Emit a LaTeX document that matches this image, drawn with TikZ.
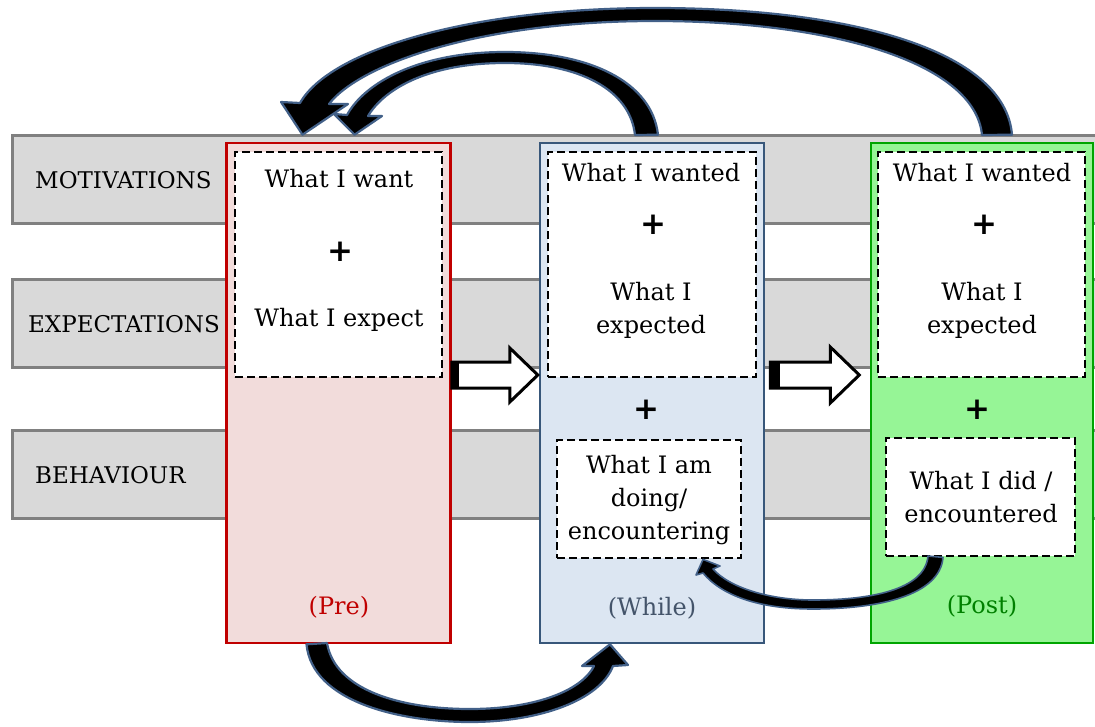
\documentclass[tikz,border=0pt]{standalone}
\usepackage{fontspec}
\setmainfont{DejaVu Serif}
\setsansfont{DejaVu Sans}
\usetikzlibrary{positioning,calc}

\definecolor{bandgray}{RGB}{217,217,217}
\definecolor{bandline}{RGB}{128,128,128}
\definecolor{prefill}{RGB}{242,220,219}
\definecolor{preline}{RGB}{192,0,0}
\definecolor{whilefill}{RGB}{220,230,242}
\definecolor{whileline}{RGB}{56,87,122}
\definecolor{whiletext}{RGB}{68,84,106}
\definecolor{postfill}{RGB}{150,245,150}
\definecolor{postline}{RGB}{0,165,0}
\definecolor{posttext}{RGB}{0,128,0}
\definecolor{arrowblue}{RGB}{66,96,136}

\begin{document}
\begin{tikzpicture}[x=1pt,y=-1pt,font=\fontsize{23}{32}\selectfont]
	\tikzstyle{band}=[draw=bandline,fill=bandgray,line width=3pt,minimum width=1088pt,minimum height=88pt,inner sep=0pt]
	\tikzstyle{phase}=[line width=2.6pt,minimum width=224pt,minimum height=500pt,inner sep=0pt]
	\tikzstyle{dashbox}=[draw=black,fill=white,dash pattern=on 8pt off 4pt,line width=2.8pt,inner sep=0pt]
	\tikzstyle{txt}=[align=center,inner sep=0pt,font=\fontsize{24}{33}\selectfont]
	\tikzstyle{plussign}=[inner sep=0pt,font=\sffamily\bfseries\fontsize{31}{31}\selectfont]
	\tikzstyle{hollow}=[draw=black,fill=white,line width=3pt,line join=miter]
	\tikzstyle{curly}=[fill=black,draw=arrowblue,line width=2.2pt,line join=round]
	
	\useasboundingbox (0,0) rectangle (1095,726);
	
	% rows
	\node[band] (mot) at (556,179) {};
	\node[band] (exp) at (556,323) {};
	\node[band] (beh) at (556,474.5) {};
	\node[anchor=base west,inner sep=0pt] (motlbl) at (35,188) {MOTIVATIONS};
	\node[anchor=base west,inner sep=0pt] (explbl) at (28,332) {EXPECTATIONS};
	\node[anchor=base west,inner sep=0pt] (behlbl) at (35,483) {BEHAVIOUR};
	
	% phases
	\node[phase,draw=preline,fill=prefill] (pre) at (338.5,393) {};
	\node[phase,draw=whileline,fill=whilefill] (while) at (652,393) {};
	\node[phase,draw=postline,fill=postfill,minimum width=222pt] (post) at (982,393) {};
	
	\node[dashbox,minimum width=207pt,minimum height=225pt] (preup) at (338.5,264.5) {};
	\node[dashbox,minimum width=208pt,minimum height=225pt] (whileup) at (652,264.5) {};
	\node[dashbox,minimum width=184pt,minimum height=118pt] (whilelow) at (649,499) {};
	\node[dashbox,minimum width=207pt,minimum height=225pt] (postup) at (981.5,264.5) {};
	\node[dashbox,minimum width=189pt,minimum height=118pt] (postlow) at (980.5,497) {};
	
	\node[txt,anchor=base] (want) at (339,187) {What I want};
	\node[plussign] (plusA) at (340,252) {+};
	\node[txt,anchor=base] (expect) at (339,326) {What I expect};
	
	\node[txt,anchor=base] (wanted) at (651,181) {What I wanted};
	\node[plussign] (plusB) at (653,225) {+};
	\node[txt] (expected) at (651,310) {What I\\expected};
	\node[plussign] (plusC) at (646,410) {+};
	\node[txt] (doing) at (649,500) {What I am\\doing/\\encountering};
	
	\node[txt,anchor=base] (wanted2) at (982,181) {What I wanted};
	\node[plussign] (plusD) at (984,225) {+};
	\node[txt] (expected2) at (982,310) {What I\\expected};
	\node[plussign] (plusE) at (977,410) {+};
	\node[txt] (did) at (981,497) {What I did /\\encountered};
	
	\node[txt,anchor=base,text=preline] (prelbl) at (339,614) {(Pre)};
	\node[txt,anchor=base,text=whiletext] (whilelbl) at (652,615) {(While)};
	\node[txt,anchor=base,text=posttext] (postlbl) at (982,613) {(Post)};
	
	% block arrows
	\draw[hollow] ([yshift=31pt]pre.east) -- ++(58,0) -- ++(0,-14) -- ++(28,27) -- ++(-28,27) -- ++(0,-14) -- ++(-58,0) -- cycle;
	\fill ([yshift=31pt]pre.east) rectangle ++(7,26);
	\draw[hollow] ([xshift=5pt,yshift=31pt]while.east) -- ++(60,0) -- ++(0,-15) -- ++(29,28) -- ++(-29,28) -- ++(0,-15) -- ++(-60,0) -- cycle;
	\fill ([xshift=5pt,yshift=31pt]while.east) rectangle ++(10,26);
	
	% curved arrows
	\filldraw[curly] ([xshift=30pt,yshift=7pt]post.north) .. controls (1005,50) and (850,8) .. (655,8) .. controls (470,8) and (330,50) .. (300,103) -- (281,102) -- ([xshift=-36pt,yshift=7pt]pre.north) -- (348,104) -- (329,104) .. controls (360,64) and (480,21) .. (655,21) .. controls (830,21) and (975,62) .. (982,135) -- cycle;
	\filldraw[curly] ([xshift=6pt,yshift=7pt]while.north) .. controls (652,82) and (590,52) .. (505,52) .. controls (420,52) and (365,82) .. (347,115) -- (334,114) -- ([xshift=16pt,yshift=7pt]pre.north) -- (382,116) -- (368,116) .. controls (385,88) and (430,63) .. (505,63) .. controls (580,63) and (630,90) .. (635,135) -- cycle;
	\filldraw[curly] ([xshift=-32pt]pre.south) .. controls (312,702) and (400,722) .. (470,722) .. controls (540,722) and (600,700) .. (613,666) -- (628,665) -- ([xshift=-42pt]while.south) -- (582,666) -- (594,666) .. controls (580,693) and (530,709) .. (470,709) .. controls (400,709) and (335,690) .. (327,643) -- cycle;
	\filldraw[curly,line width=1.6pt] ([xshift=-37.5pt]postlow.south) .. controls (940,595) and (880,609) .. (813,609) .. controls (760,609) and (722,596) .. (703,573) -- (696,575) -- ([xshift=54pt]whilelow.south) -- (720,566) -- (713,569) .. controls (730,588) and (770,600) .. (813,600) .. controls (870,600) and (925,590) .. (928,556) -- cycle;
\end{tikzpicture}
\end{document}
